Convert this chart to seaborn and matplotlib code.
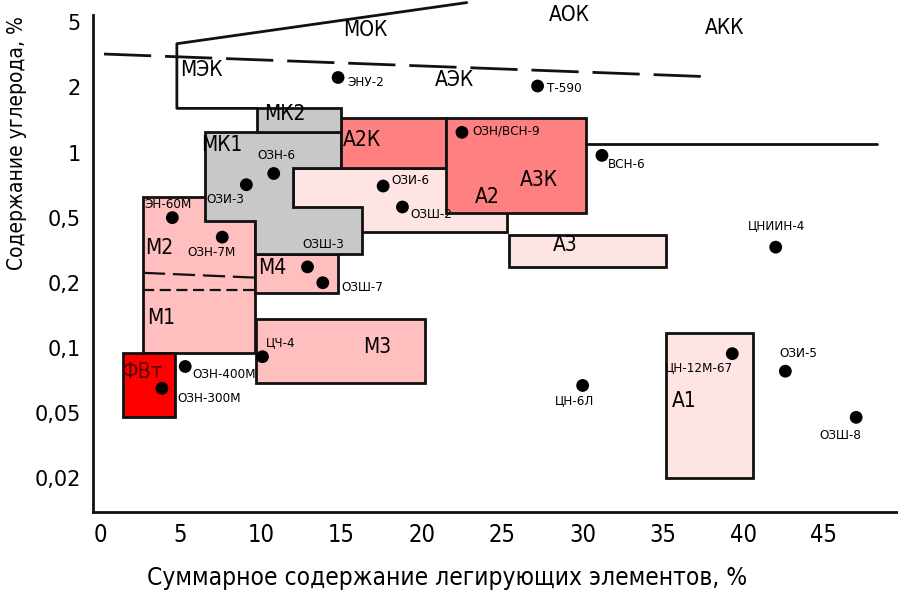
import numpy as np
import matplotlib.pyplot as plt
import seaborn as sns
from matplotlib import font_manager
from matplotlib.patches import Rectangle, Polygon

# carbon axis: ticks are drawn equally spaced on the chart
c_ticks = [0.02, 0.05, 0.1, 0.2, 0.5, 1, 2, 5]
c_tick_labels = ['0,02', '0,05', '0,1', '0,2', '0,5', '1', '2', '5']
x_ticks = [0, 5, 10, 15, 20, 25, 30, 35, 40, 45]

# steel grades: sum of alloying elements (%) and carbon (%)
grade_names = ['ЭНУ-2', 'Т-590', 'ОЗН/ВСН-9', 'ВСН-6', 'ОЗН-6', 'ОЗИ-3', 'ОЗИ-6',
               'ОЗШ-2', 'ЭН-60М', 'ОЗН-7М', 'ЦНИИН-4', 'ОЗШ-3', 'ОЗШ-7', 'ЦЧ-4',
               'ОЗН-400М', 'ОЗН-300М', 'ЦН-6Л', 'ЦН-12М-67', 'ОЗИ-5', 'ОЗШ-8']
grade_alloy = [14.8, 27.2, 22.5, 31.2, 10.8, 9.1, 17.6,
               18.8, 4.5, 7.6, 42.0, 12.9, 13.85, 10.1,
               5.3, 3.85, 30.0, 39.3, 42.6, 47.0]
grade_carbon = [2.3, 2.04, 1.24, 0.97, 0.80, 0.71, 0.70,
                0.56, 0.50, 0.38, 0.33, 0.25, 0.20, 0.091,
                0.082, 0.065, 0.067, 0.094, 0.078, 0.047]

# structural zones as rectangles: alloy from-to, carbon from-to
zone_names = ['А2', 'А3', 'А1', 'М1/М2', 'М4', 'М3', 'ФВт', 'А2К', 'А3К', 'МК2']
zone_alloy_lo = [12.0, 25.4, 35.2, 2.67, 9.63, 9.7, 1.43, 15.0, 21.5, 9.75]
zone_alloy_hi = [25.3, 35.2, 40.6, 9.63, 14.8, 20.2, 4.66, 21.5, 30.2, 15.0]
zone_carbon_lo = [0.41, 0.25, 0.02, 0.095, 0.18, 0.069, 0.047, 0.85, 0.525, 1.25]
zone_carbon_hi = [0.85, 0.39, 0.117, 0.62, 0.30, 0.136, 0.095, 1.44, 1.44, 1.6]

# МК1 zone outline
mk1_alloy = [6.52, 15.0, 15.0, 12.0, 12.0, 16.3, 16.3, 9.63, 9.63, 6.52]
mk1_carbon = [1.25, 1.25, 0.85, 0.85, 0.56, 0.56, 0.30, 0.30, 0.48, 0.48]

# boundary lines
mok_alloy = [22.8, 4.78, 4.78, 9.75]
mok_carbon = [6.6, 3.7, 1.6, 1.6]
mek_alloy = [0.25, 38.1]
mek_carbon = [3.2, 2.32]
akk_alloy = [30.2, 48.3]
akk_carbon = [1.1, 1.1]
m2_alloy = [2.67, 9.63]
m2_carbon = [0.23, 0.215]
m1_alloy = [2.67, 9.63]
m1_carbon = [0.185, 0.185]

# zone captions
caption_names = ['МОК', 'АОК', 'АКК', 'МЭК', 'АЭК', 'МК2', 'МК1', 'А2К', 'А3К',
                 'А2', 'А3', 'М2', 'М4', 'М1', 'М3', 'А1']
caption_alloy = [16.5, 29.2, 38.8, 6.3, 22.0, 11.5, 7.6, 16.3, 27.3,
                 24.1, 28.9, 3.7, 10.7, 3.8, 17.2, 36.3]
caption_carbon = [4.5, 5.55, 4.6, 2.55, 2.22, 1.51, 1.08, 1.14, 0.75,
                  0.62, 0.34, 0.326, 0.246, 0.137, 0.101, 0.057]

# label offsets from the dots (pixels) and alignment
label_dx = [9, 9, 10, 6, 3, -21, 8, 8, -28, -35, 1, -5, 19, 3, 7, 15, -8, -33, 13, -16]
label_dy = [5, 2, -1, 9, -18, 15, -6, 8, -13, 15, -22, -22, 5, -14, 8, 10, 15, 14, -18, 18]
label_ha = ['left', 'left', 'left', 'left', 'center', 'center', 'left', 'left', 'left', 'left',
            'center', 'left', 'left', 'left', 'left', 'left', 'center', 'center', 'center', 'center']

sns.set_style('white')
plt.rcParams['font.family'] = ['DejaVu Sans']
for key in ['text.color', 'axes.labelcolor', 'xtick.color', 'ytick.color']:
    plt.rcParams[key] = 'black'


# look for a narrow face with cyrillic, otherwise use Roboto
def narrow_font():
    for f in font_manager.fontManager.ttflist:
        n = f.name.lower()
        good_family = any(k in n for k in ['dejavu sans', 'liberation sans', 'roboto', 'noto sans', 'open sans'])
        is_narrow = 'narrow' in n or 'condensed' in n or f.stretch in ('condensed', 'semi-condensed')
        if good_family and is_narrow and f.style == 'normal' and f.weight in (400, 'normal', 'regular') \
                and 'mono' not in n:
            return f.fname
    return None


narrow_path = narrow_font()


def nfont(size):
    if narrow_path:
        return font_manager.FontProperties(fname=narrow_path, size=size)
    return font_manager.FontProperties(family='Roboto', size=size * 0.9)


# piecewise log scale where every tick is one step apart
lt = np.log10(c_ticks)
steps = np.arange(len(c_ticks))


def fwd(v):
    l = np.log10(np.clip(np.asarray(v, float), 1e-9, None))
    out = np.interp(l, lt, steps)
    out = np.where(l < lt[0], (l - lt[0]) / (lt[1] - lt[0]), out)
    out = np.where(l > lt[-1], steps[-1] + (l - lt[-1]) / (lt[-1] - lt[-2]), out)
    return out


def inv(p):
    p = np.asarray(p, float)
    l = np.interp(p, steps, lt)
    l = np.where(p < 0, lt[0] + p * (lt[1] - lt[0]), l)
    l = np.where(p > steps[-1], lt[-1] + (p - steps[-1]) * (lt[-1] - lt[-2]), l)
    return 10 ** l


fig = plt.figure(figsize=(8.98, 5.94), dpi=100)
ax = fig.add_axes([0.1036, 0.138, 0.8964, 0.8367])
ax.set_yscale('function', functions=(fwd, inv))
ax.set_xlim(-0.43, 49.6)
ax.set_ylim(0.0124, 5.54)

light = '#ffe4e4'
pink = '#ffbfbf'
salmon = '#ff8080'
gray = '#c8c8c8'
zone_colors = {'А2': light, 'А3': light, 'А1': light, 'М1/М2': pink, 'М4': pink,
               'М3': pink, 'ФВт': '#ff0000', 'А2К': salmon, 'А3К': salmon, 'МК2': gray}

edge = dict(edgecolor='#111111', linewidth=2)
for i, name in enumerate(zone_names[:7]):
    ax.add_patch(Rectangle((zone_alloy_lo[i], zone_carbon_lo[i]),
                           zone_alloy_hi[i] - zone_alloy_lo[i],
                           zone_carbon_hi[i] - zone_carbon_lo[i],
                           facecolor=zone_colors[name], zorder=2, **edge))
ax.add_patch(Polygon(np.column_stack([mk1_alloy, mk1_carbon]), closed=True,
                     facecolor=gray, zorder=3, **edge))
for i, name in enumerate(zone_names[7:], start=7):
    ax.add_patch(Rectangle((zone_alloy_lo[i], zone_carbon_lo[i]),
                           zone_alloy_hi[i] - zone_alloy_lo[i],
                           zone_carbon_hi[i] - zone_carbon_lo[i],
                           facecolor=zone_colors[name], zorder=3, **edge))

ax.plot(mok_alloy, mok_carbon, color='#111111', lw=2, clip_on=False, zorder=4)
ax.plot(mek_alloy, mek_carbon, color='#111111', lw=2, ls=(0, (17, 5)), zorder=4)
ax.plot(akk_alloy, akk_carbon, color='#111111', lw=2, zorder=4)
ax.plot(m2_alloy, m2_carbon, color='#111111', lw=1.6, ls=(0, (10, 3.5)), zorder=4)
ax.plot(m1_alloy, m1_carbon, color='#111111', lw=1.6, ls=(0, (5, 2.5)), zorder=4)

sns.scatterplot(x=grade_alloy, y=grade_carbon, ax=ax, color='black', s=85,
                edgecolor='none', legend=False, zorder=6)

for name, xa, yc, dx, dy, ha in zip(grade_names, grade_alloy, grade_carbon,
                                    label_dx, label_dy, label_ha):
    ax.annotate(name, (xa, yc), xytext=(dx, -dy), textcoords='offset pixels',
                ha=ha, va='center', fontproperties=nfont(9.6), zorder=7,
                annotation_clip=False)

for name, xa, yc in zip(caption_names, caption_alloy, caption_carbon):
    ax.text(xa, yc, name, ha='center', va='center', fontproperties=nfont(15),
            zorder=7, clip_on=False)
ax.text(2.67, 0.0773, 'ФВт', ha='center', va='center', fontproperties=nfont(15.5),
        color='#5a0000', zorder=7)

ax.set_xticks(x_ticks)
ax.set_xticklabels([str(t) for t in x_ticks], fontproperties=nfont(17))
ax.set_yticks(c_ticks)
ax.set_yticklabels(c_tick_labels, fontsize=15)
ax.tick_params(length=0)
ax.tick_params(axis='x', pad=8)
ax.tick_params(axis='y', pad=9)
ax.minorticks_off()

sns.despine(ax=ax, top=True, right=True)
for s in ['left', 'bottom']:
    ax.spines[s].set_linewidth(2)
    ax.spines[s].set_color('#111111')

fig.text(447 / 898, 1 - 578 / 594, 'Суммарное содержание легирующих элементов, %',
         ha='center', va='center', fontproperties=nfont(17.6))
fig.text(17 / 898, 1 - 143 / 594, 'Содержание углерода, %', rotation=90,
         ha='center', va='center', fontproperties=nfont(15))

fig.savefig('out.png', dpi=100)
